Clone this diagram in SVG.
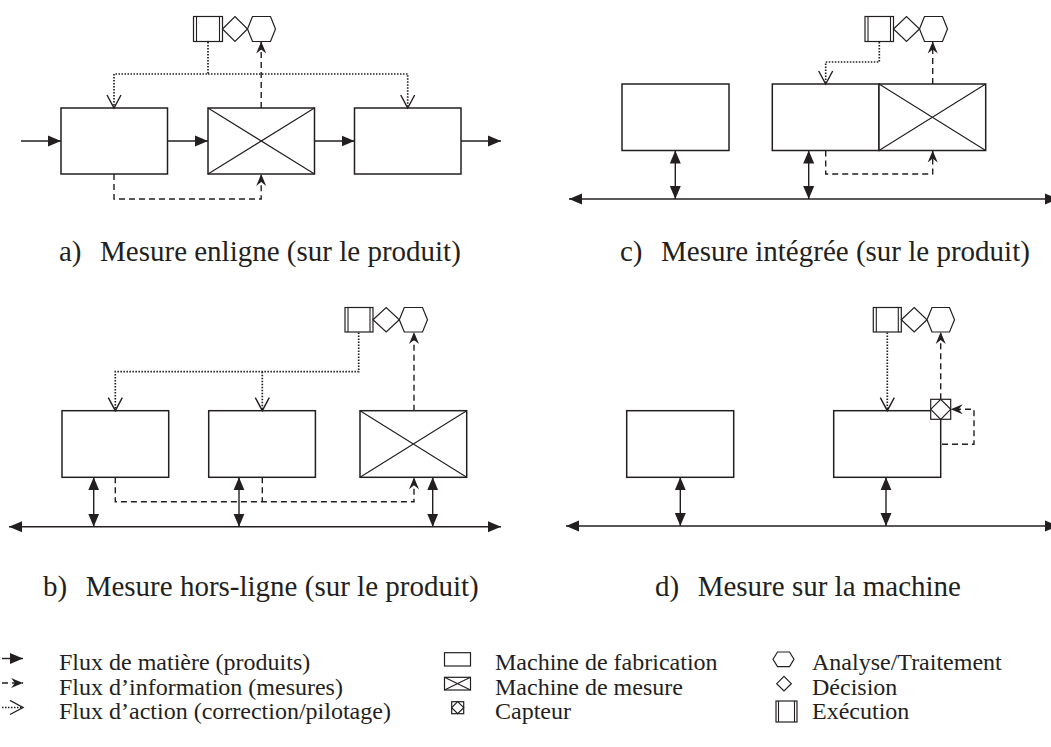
<svg xmlns="http://www.w3.org/2000/svg" width="1051" height="747" viewBox="0 0 1051 747">
<style>
.box{fill:#fff;stroke:#231f20;stroke-width:1.5}
.x{stroke:#231f20;stroke-width:1.1;fill:none}
.ico{fill:#fff;stroke:#231f20;stroke-width:1.2}
.mat{fill:none;stroke:#231f20;stroke-width:1.4}
.info{fill:none;stroke:#231f20;stroke-width:1.4;stroke-dasharray:6 4}
.act{fill:none;stroke:#231f20;stroke-width:1.7;stroke-dasharray:1.5 1.5}
.cap{font-family:"Liberation Serif","Times New Roman",serif;font-size:29px;fill:#231f20}
.leg{font-family:"Liberation Serif","Times New Roman",serif;font-size:24px;fill:#231f20}
</style>
<defs>
<marker id="mS" markerUnits="userSpaceOnUse" markerWidth="14" markerHeight="12" refX="13" refY="6" orient="auto-start-reverse" viewBox="0 0 14 12">
<path d="M0,0.5 L13,6 L0,11.5 z" fill="#231f20" stroke="none"/>
</marker>
<marker id="mI" markerUnits="userSpaceOnUse" markerWidth="14" markerHeight="12" refX="12" refY="6" orient="auto" viewBox="0 0 14 12">
<path d="M0,1 L12,6 L0,11 L4,6 z" fill="#231f20" stroke="none"/>
</marker>
<marker id="mA" markerUnits="userSpaceOnUse" markerWidth="16" markerHeight="16" refX="14" refY="8" orient="auto" viewBox="0 0 16 16">
<path d="M1,1 L14,8 L1,15" fill="none" stroke="#231f20" stroke-width="1.4" stroke-dasharray="none"/>
</marker>
</defs>

<!-- ===== a) ===== -->
<g id="a-icons">
<rect class="ico" x="193.5" y="16.5" width="29" height="25"/>
<line class="x" x1="196.5" y1="16.5" x2="196.5" y2="41.5"/>
<line class="x" x1="219.5" y1="16.5" x2="219.5" y2="41.5"/>
<polygon class="ico" points="222.5,29 235,16.5 247.5,29 235,41.5"/>
<polygon class="ico" points="247.5,29 252.5,16.5 270.5,16.5 275.5,29 270.5,41.5 252.5,41.5"/>
</g>
<g id="a-m1"><rect class="box" x="61" y="108" width="106.5" height="66"/></g>
<g id="a-mes"><rect class="box" x="208" y="108" width="106.5" height="66"/>
<path class="x" d="M208,108 L314.5,174 M314.5,108 L208,174"/></g>
<g id="a-m3"><rect class="box" x="354.5" y="108" width="106.5" height="66"/></g>
<g id="a-connectors">
<path class="mat" d="M21,141 H61" marker-end="url(#mS)"/>
<path class="mat" d="M167.5,141 H208" marker-end="url(#mS)"/>
<path class="mat" d="M314.5,141 H354.5" marker-end="url(#mS)"/>
<path class="mat" d="M461,141 H501" marker-end="url(#mS)"/>
<path class="act" d="M208,42 V74 H114 V108" marker-end="url(#mA)"/>
<path class="act" d="M208,74 H407.7 V108" marker-end="url(#mA)"/>
<path class="info" d="M261.2,108 V41.5" marker-end="url(#mI)"/>
<path class="info" d="M114,174 V199 H261.2 V174" marker-end="url(#mI)"/>
</g>
<text class="cap" x="59" y="261">a)<tspan dx="18.5">Mesure enligne (sur le produit)</tspan></text>

<!-- ===== c) ===== -->
<g id="c-icons">
<rect class="ico" x="865" y="16.5" width="28.5" height="25"/>
<line class="x" x1="868" y1="16.5" x2="868" y2="41.5"/>
<line class="x" x1="890.5" y1="16.5" x2="890.5" y2="41.5"/>
<polygon class="ico" points="893.5,29 906.5,16.5 919.5,29 906.5,41.5"/>
<polygon class="ico" points="919.5,29 924.5,16.5 942.5,16.5 947.5,29 942.5,41.5 924.5,41.5"/>
</g>
<g id="c-m1"><rect class="box" x="622" y="84" width="107" height="66.5"/></g>
<g id="c-m2"><rect class="box" x="772.3" y="84" width="106.7" height="66.5"/></g>
<g id="c-mes"><rect class="box" x="879" y="84" width="106.7" height="66.5"/>
<path class="x" d="M879,84 L985.7,150.5 M985.7,84 L879,150.5"/></g>
<g id="c-connectors">
<path class="mat" d="M569,199 H1058" marker-start="url(#mS)" marker-end="url(#mS)"/>
<path class="mat" d="M675.3,150.5 V199" marker-start="url(#mS)" marker-end="url(#mS)"/>
<path class="mat" d="M808.7,150.5 V199" marker-start="url(#mS)" marker-end="url(#mS)"/>
<path class="info" d="M825.7,150.5 V174 H932.7 V150.5" marker-end="url(#mI)"/>
<path class="info" d="M932.7,84 V41.5" marker-end="url(#mI)"/>
<path class="act" d="M879.3,42 V62 H825.7 V84" marker-end="url(#mA)"/>
</g>
<text class="cap" x="620" y="261">c)<tspan dx="18.5">Mesure intégrée (sur le produit)</tspan></text>

<!-- ===== b) ===== -->
<g id="b-icons">
<rect class="ico" x="345" y="307.5" width="28" height="24.5"/>
<line class="x" x1="348" y1="307.5" x2="348" y2="332"/>
<line class="x" x1="370" y1="307.5" x2="370" y2="332"/>
<polygon class="ico" points="373,319.75 386.2,307.5 399.3,319.75 386.2,332"/>
<polygon class="ico" points="399.3,319.75 404.3,307.5 422.5,307.5 427.5,319.75 422.5,332 404.3,332"/>
</g>
<g id="b-m1"><rect class="box" x="62" y="410.7" width="106.7" height="66.6"/></g>
<g id="b-m2"><rect class="box" x="208.7" y="410.7" width="106.7" height="66.6"/></g>
<g id="b-mes"><rect class="box" x="360" y="410.7" width="106.7" height="66.6"/>
<path class="x" d="M360,410.7 L466.7,477.3 M466.7,410.7 L360,477.3"/></g>
<g id="b-connectors">
<path class="mat" d="M9,526.7 H501" marker-start="url(#mS)" marker-end="url(#mS)"/>
<path class="mat" d="M93.7,477.3 V526.7" marker-start="url(#mS)" marker-end="url(#mS)"/>
<path class="mat" d="M239,477.3 V526.7" marker-start="url(#mS)" marker-end="url(#mS)"/>
<path class="mat" d="M432.7,477.3 V526.7" marker-start="url(#mS)" marker-end="url(#mS)"/>
<path class="info" d="M115.3,477.3 V501.7 H414 V477.3" marker-end="url(#mI)"/>
<path class="info" d="M262.3,477.3 V501.7"/>
<path class="info" d="M414,410.7 V332" marker-end="url(#mI)"/>
<path class="act" d="M358.7,332.5 V371.7 H115.3 V410.7" marker-end="url(#mA)"/>
<path class="act" d="M262.3,371.7 V410.7" marker-end="url(#mA)"/>
</g>
<text class="cap" x="43" y="596">b)<tspan dx="18.5">Mesure hors-ligne (sur le produit)</tspan></text>

<!-- ===== d) ===== -->
<g id="d-icons">
<rect class="ico" x="873.3" y="307.5" width="28" height="24.5"/>
<line class="x" x1="876.3" y1="307.5" x2="876.3" y2="332"/>
<line class="x" x1="898.3" y1="307.5" x2="898.3" y2="332"/>
<polygon class="ico" points="901.3,319.75 914.2,307.5 927,319.75 914.2,332"/>
<polygon class="ico" points="927,319.75 932,307.5 949.5,307.5 954.5,319.75 949.5,332 932,332"/>
</g>
<g id="d-m1"><rect class="box" x="626.7" y="410.7" width="107" height="66.6"/></g>
<g id="d-m2"><rect class="box" x="833.7" y="410.7" width="107" height="66.6"/></g>
<g id="d-capteur">
<rect class="ico" x="930.7" y="399.3" width="20" height="20" stroke-width="1.4"/>
<polygon class="ico" points="930.7,409.3 940.7,399.3 950.7,409.3 940.7,419.3"/>
</g>
<g id="d-connectors">
<path class="mat" d="M566,526 H1058" marker-start="url(#mS)" marker-end="url(#mS)"/>
<path class="mat" d="M680.3,477.3 V526" marker-start="url(#mS)" marker-end="url(#mS)"/>
<path class="mat" d="M886,477.3 V526" marker-start="url(#mS)" marker-end="url(#mS)"/>
<path class="act" d="M887.3,332.5 V410.7" marker-end="url(#mA)"/>
<path class="info" d="M940.7,399.3 V332" marker-end="url(#mI)"/>
<path class="info" d="M942,444.3 H974 V409.3 H950.7" marker-end="url(#mI)"/>
</g>
<text class="cap" x="655" y="596">d)<tspan dx="18.5">Mesure sur la machine</tspan></text>

<!-- ===== legend ===== -->
<g id="legend">
<path class="mat" d="M2,658.5 H23" marker-end="url(#mS)"/>
<path class="info" d="M2,683 H23" stroke-dasharray="4 3" marker-end="url(#mI)"/>
<path class="act" d="M2,707.5 H23" marker-end="url(#mA)"/>
<text class="leg" x="59" y="670">Flux de matière (produits)</text>
<text class="leg" x="59" y="694.5">Flux d’information (mesures)</text>
<text class="leg" x="59" y="719">Flux d’action (correction/pilotage)</text>

<rect class="ico" x="444.5" y="652.7" width="26" height="13.3"/>
<rect class="ico" x="444.5" y="677.3" width="26" height="12.7"/>
<path class="x" d="M444.5,677.3 L470.5,690 M470.5,677.3 L444.5,690"/>
<rect class="ico" x="451.7" y="701.7" width="12" height="12"/>
<polygon class="ico" points="451.7,707.7 457.7,701.7 463.7,707.7 457.7,713.7"/>
<text class="leg" x="495" y="670">Machine de fabrication</text>
<text class="leg" x="495" y="694.5">Machine de mesure</text>
<text class="leg" x="495" y="719">Capteur</text>

<polygon class="ico" points="773,659.3 777.5,652 789.5,652 794,659.3 789.5,666.6 777.5,666.6"/>
<polygon class="ico" points="784,676.4 791.3,683.7 784,691 776.7,683.7"/>
<rect class="ico" x="776" y="701" width="21" height="21"/>
<line class="x" x1="778.5" y1="701" x2="778.5" y2="722"/>
<line class="x" x1="794.5" y1="701" x2="794.5" y2="722"/>
<text class="leg" x="812" y="670">Analyse/Traitement</text>
<text class="leg" x="812" y="694.5">Décision</text>
<text class="leg" x="812" y="719">Exécution</text>
</g>
</svg>
